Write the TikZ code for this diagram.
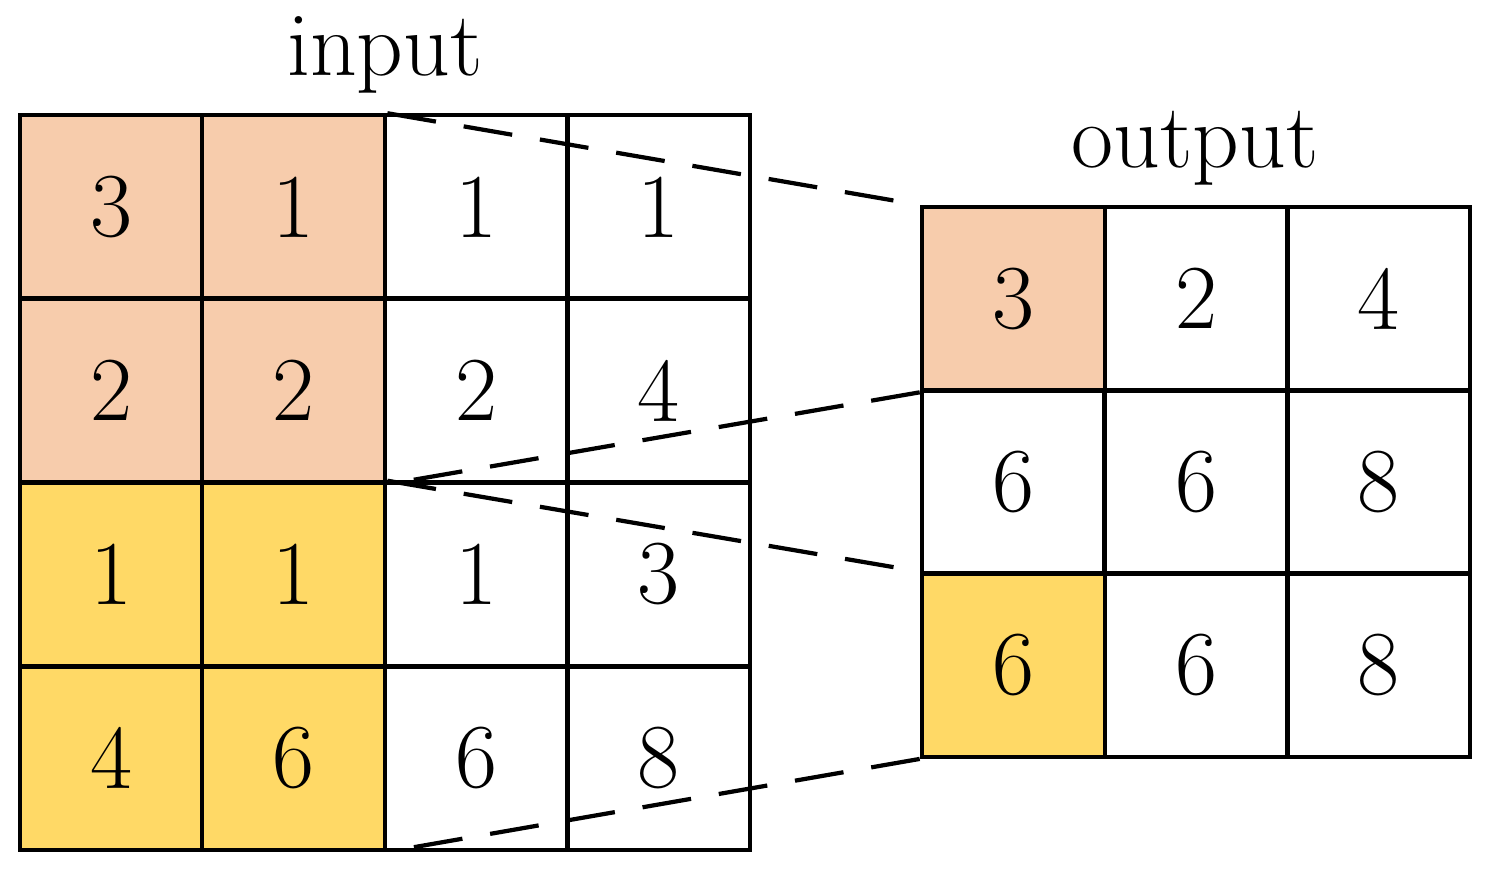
\documentclass[tikz,border=0pt]{standalone}
\usetikzlibrary{positioning}
\definecolor{peach}{HTML}{F7CCAC}
\definecolor{gold}{HTML}{FFD966}
\tikzset{
  cell/.style={draw=black, line width=1.2pt, minimum size=1.83cm, inner sep=0, font={\fontsize{26}{30}\selectfont}},
  title/.style={font={\fontsize{26}{30}\selectfont}},
  link/.style={dashed, dash pattern=on 14pt off 8pt, line width=1.2pt}
}
\begin{document}
\begin{tikzpicture}[x=0.01cm,y=-0.01cm]
\useasboundingbox (0,0) rectangle (1491,872);

% input grid
\foreach \row/\vals in {1/{3,1,1,1},2/{2,2,2,4},3/{1,1,1,3},4/{4,6,6,8}}
  \foreach \v [count=\col] in \vals
    \node [cell] (i\row\col) at ({20+182.5*(\col-0.5)},{115+183.75*(\row-0.5)}) {\v};
\foreach \n in {i11,i12,i21,i22} \node [cell, fill=peach] at (\n) {};
\foreach \n in {i31,i32,i41,i42} \node [cell, fill=gold] at (\n) {};
\node [cell, fill=peach] at (i11) {3};
\node [cell, fill=peach] at (i12) {1};
\node [cell, fill=peach] at (i21) {2};
\node [cell, fill=peach] at (i22) {2};
\node [cell, fill=gold] at (i31) {1};
\node [cell, fill=gold] at (i32) {1};
\node [cell, fill=gold] at (i41) {4};
\node [cell, fill=gold] at (i42) {6};

% output grid
\foreach \row/\vals in {1/{3,2,4},2/{6,6,8},3/{6,6,8}}
  \foreach \v [count=\col] in \vals
    \node [cell] (o\row\col) at ({922+182.7*(\col-0.5)},{207+183.3*(\row-0.5)}) {\v};
\node [cell, fill=peach] at (o11) {3};
\node [cell, fill=gold] at (o31) {6};

\node [title] (intitle) at (385,55) {input};
\node [title] (outtitle) at (1195,148) {output};

\draw [link] (i12.north east) -- (o11.north west);
\draw [link] (o11.south west) -- (i22.south east);
\draw [link] (i32.north east) -- (o31.north west);
\draw [link] (o31.south west) -- (i42.south east);
\end{tikzpicture}
\end{document}
